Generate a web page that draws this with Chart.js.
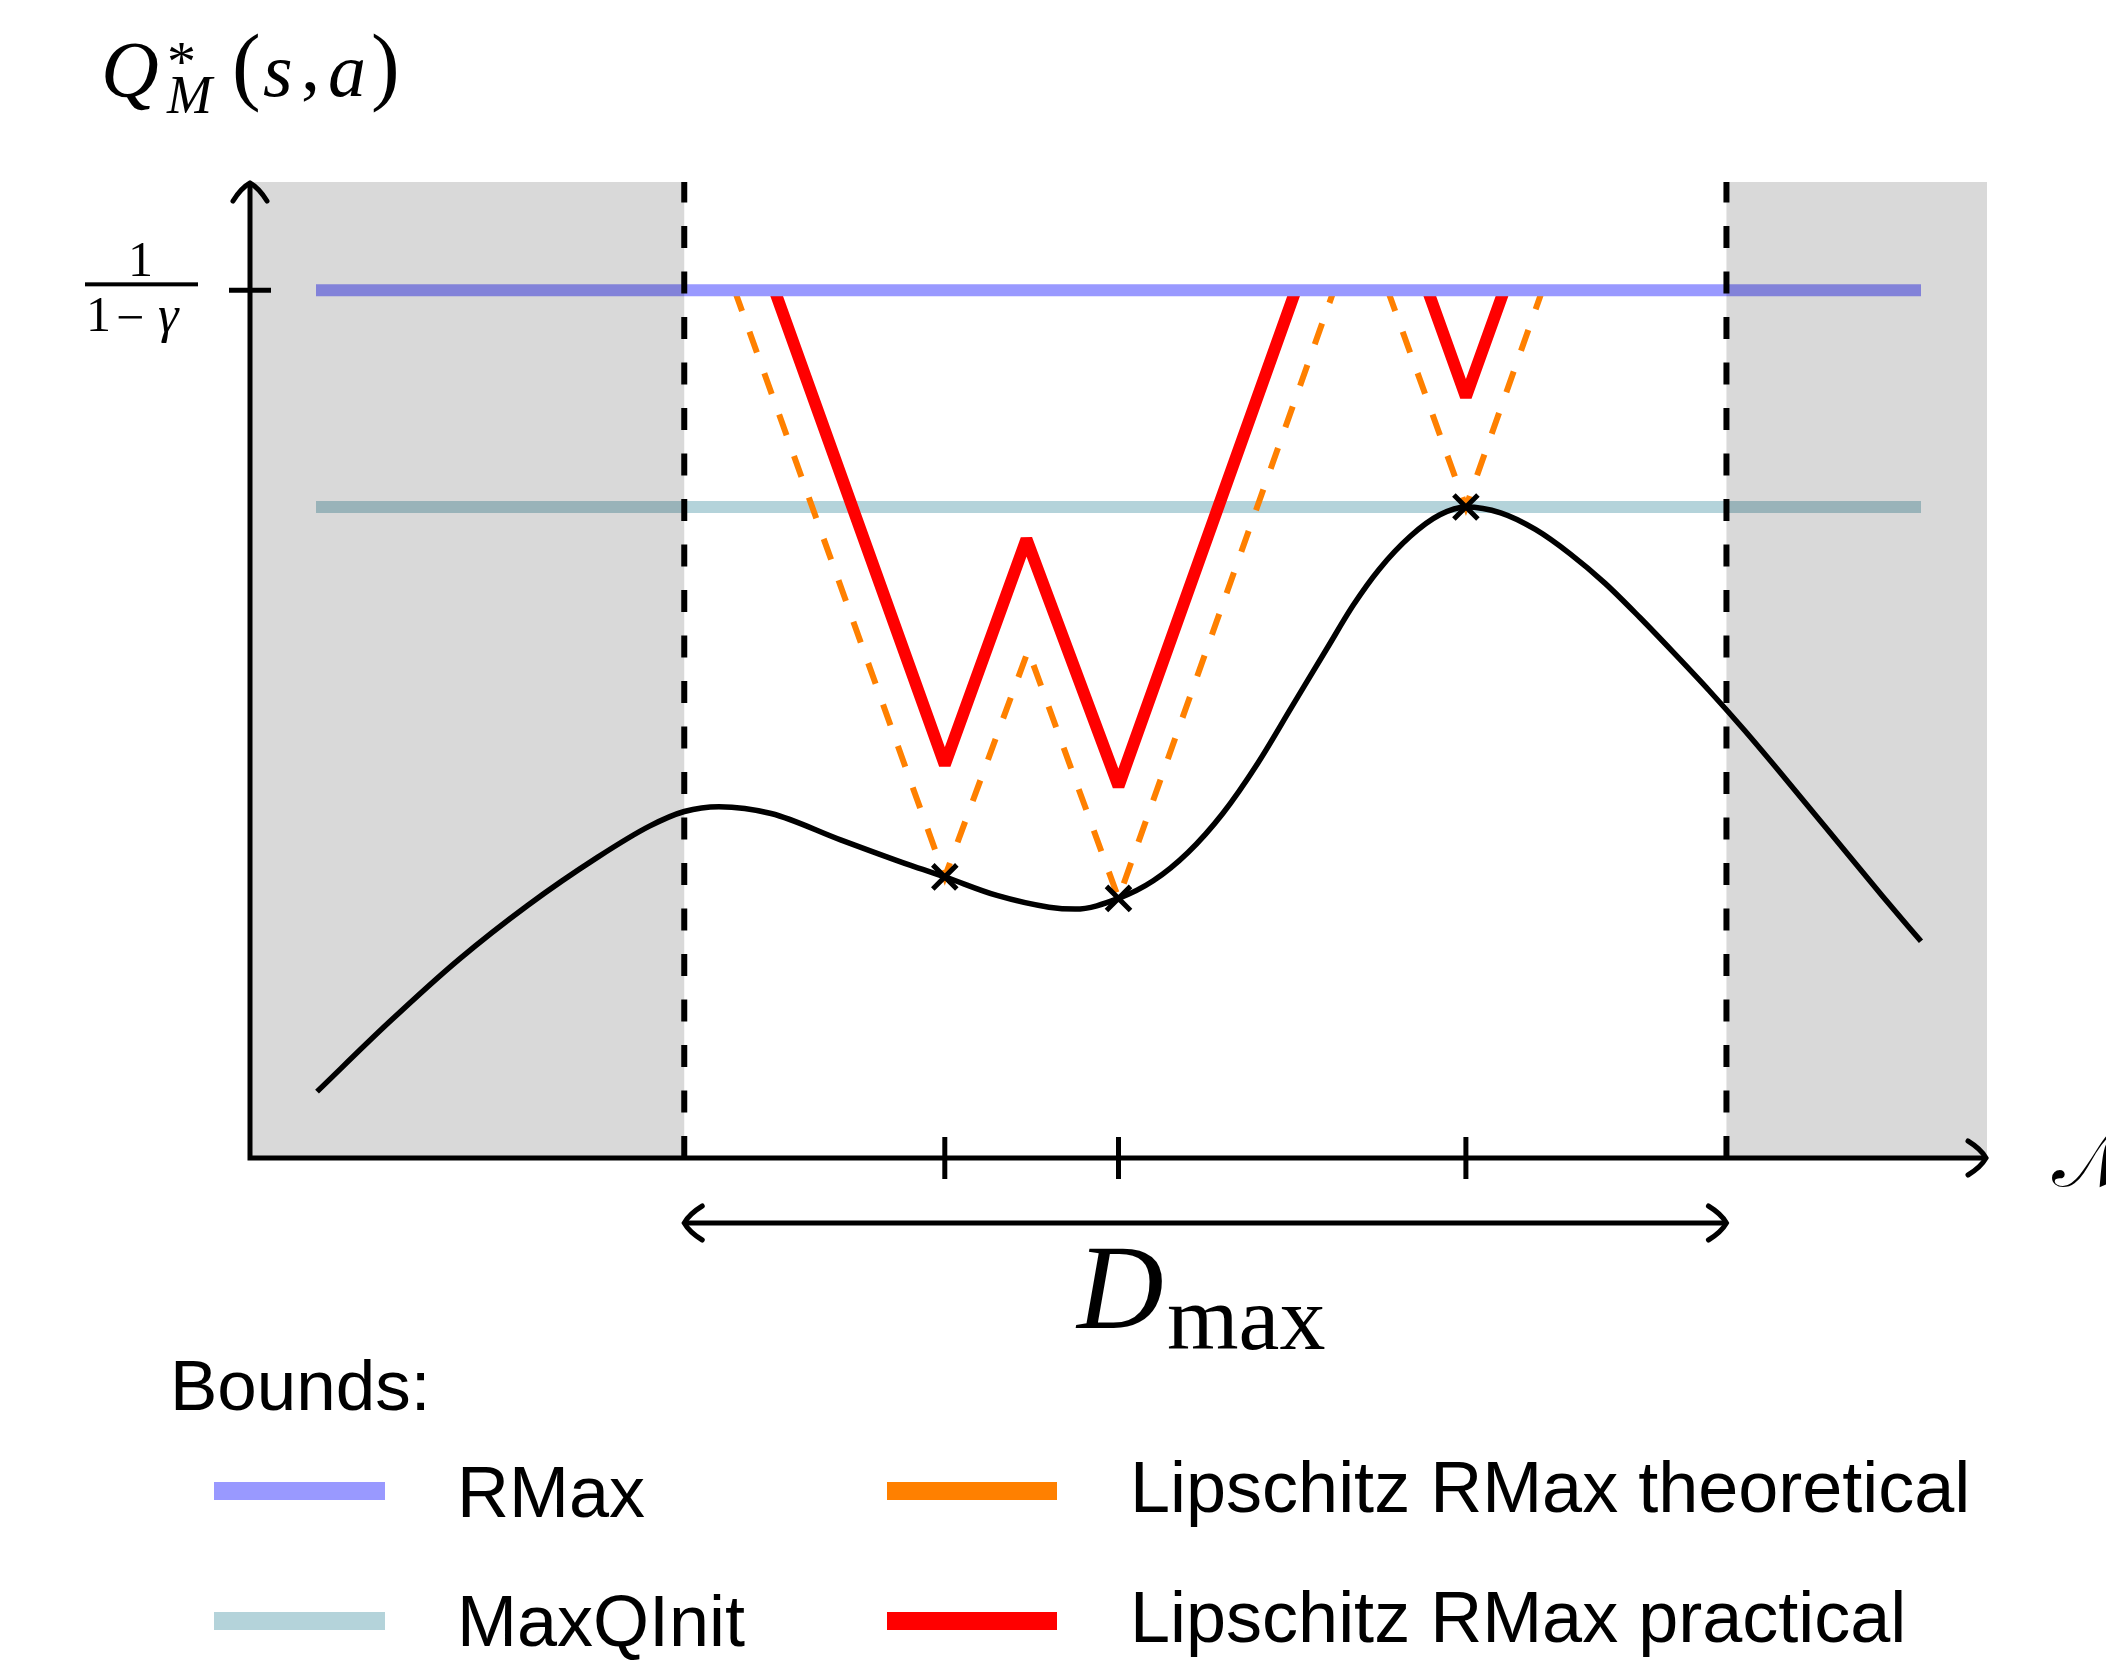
<!DOCTYPE html>
<html>
<head>
<meta charset="utf-8">
<title>Lipschitz RMax bounds</title>
<script src="https://cdn.jsdelivr.net/npm/chart.js@4.4.1/dist/chart.umd.min.js"></script>
<style>
    html, body { margin: 0; padding: 0; background: #fff; }
    #chart { display: block; width: 2106px; height: 1662px; }
</style>
</head>
<body>
<canvas id="chart" width="2106" height="1662"></canvas>
<script>
(function() {
    'use strict';

    // true Q*_M(s,a) curve
    var curveX = [3.86, 8, 12, 16, 20, 23, 25, 27, 30, 34, 38, 40, 43, 46, 47.5, 50, 52, 54, 56, 58, 60, 62, 63.5, 65, 66.8, 68.5, 70, 72, 74, 76, 78, 80, 82, 84, 86, 88, 90, 92, 94, 96.2];
    var curveY = [6.8, 13.9, 20.3, 25.9, 30.8, 34.0, 35.5, 36.0, 35.3, 32.6, 30.0, 28.8, 26.9, 25.7, 25.5, 26.6, 28.4, 31.3, 35.3, 40.4, 46.3, 52.2, 56.6, 60.3, 63.7, 65.9, 66.7, 66.1, 64.4, 61.9, 58.9, 55.4, 51.7, 47.9, 43.9, 39.7, 35.4, 31.1, 26.8, 22.2];

    // sampled state-actions (crosses and x-axis ticks)
    var markX = [40, 50, 70];
    var markY = [28.8, 26.6, 66.7];

    // constant bounds and their horizontal extent
    var rmaxY = 88.9;
    var maxQInitY = 66.7;
    var boundX = [3.8, 96.2];

    // D_max window
    var regionX = [25, 85];

    // Lipschitz bounds (null = break)
    var theoreticalX = [27.9, 40, 44.8, 50, 62.4, 64, 65.5, 70, 74.4];
    var theoreticalY = [88.9, 28.8, 52.0, 26.6, 88.9, null, 88.9, 66.7, 88.9];
    var practicalX = [30.2, 40, 44.7, 50, 60.2, 64, 67.8, 70, 72.2];
    var practicalY = [88.9, 40.3, 63.4, 38.1, 88.9, null, 88.9, 78.0, 88.9];

    var legendLabels = ['RMax', 'MaxQInit', 'Lipschitz RMax theoretical', 'Lipschitz RMax practical'];

    var SERIF = '"Liberation Serif", "DejaVu Serif", serif';
    var SANS = '"Liberation Sans", Arial, sans-serif';

    function pts(xs, ys) {
        return xs.map(function(x, i) { return { x: x, y: ys[i] }; });
    }

    function arrowHead(ctx, x, y, angle) {
        ctx.save();
        ctx.translate(x, y);
        ctx.rotate(angle);
        ctx.lineCap = 'round';
        ctx.beginPath();
        ctx.moveTo(-18, -17);
        ctx.quadraticCurveTo(-5, -9, 0, 0);
        ctx.quadraticCurveTo(-5, 9, -18, 17);
        ctx.stroke();
        ctx.restore();
    }

    // place text by its ink box (left, top)
    function ink(ctx, text, font, left, top) {
        ctx.font = font;
        var m = ctx.measureText(text);
        ctx.fillText(text, left + m.actualBoundingBoxLeft, top + m.actualBoundingBoxAscent);
    }

    function label(ctx, text, font, left, baseline) {
        ctx.font = font;
        var m = ctx.measureText(text);
        ctx.fillText(text, left + m.actualBoundingBoxLeft, baseline);
    }

    var overlay = {
        id: 'overlay',
        afterDatasetsDraw: function(chart) {
            var ctx = chart.ctx;
            var xs = chart.scales.x, ys = chart.scales.y;
            var x0 = xs.getPixelForValue(0), x1 = xs.getPixelForValue(xs.max);
            var y0 = ys.getPixelForValue(0), y1 = ys.getPixelForValue(ys.max);
            var dl = xs.getPixelForValue(regionX[0]), dr = xs.getPixelForValue(regionX[1]);

            ctx.save();
            ctx.fillStyle = 'rgba(0,0,0,0.15)';
            ctx.fillRect(x0, y1, dl - x0, y0 - y1);
            ctx.fillRect(dr, y1, x1 - dr, y0 - y1);

            ctx.strokeStyle = '#000';
            ctx.lineWidth = 6;
            ctx.setLineDash([22, 23.5]);
            [dl, dr].forEach(function(px) {
                ctx.beginPath();
                ctx.moveTo(px, y0);
                ctx.lineTo(px, y1);
                ctx.stroke();
            });
            ctx.setLineDash([]);

            ctx.lineWidth = 5;
            ctx.beginPath();
            ctx.moveTo(x0, y1 + 1);
            ctx.lineTo(x0, y0);
            ctx.lineTo(x1 - 1, y0);
            ctx.stroke();
            arrowHead(ctx, x0, y1 + 1, -Math.PI / 2);
            arrowHead(ctx, x1 - 1, y0, 0);

            markX.forEach(function(v) {
                var px = xs.getPixelForValue(v);
                ctx.beginPath();
                ctx.moveTo(px, y0 - 21);
                ctx.lineTo(px, y0 + 21);
                ctx.stroke();
            });
            var ry = ys.getPixelForValue(rmaxY);
            ctx.beginPath();
            ctx.moveTo(x0 - 21, ry);
            ctx.lineTo(x0 + 21, ry);
            ctx.stroke();

            var ay = y0 + 65;
            ctx.beginPath();
            ctx.moveTo(dl, ay);
            ctx.lineTo(dr, ay);
            ctx.stroke();
            arrowHead(ctx, dl, ay, Math.PI);
            arrowHead(ctx, dr, ay, 0);
            ctx.restore();
        },
        afterDraw: function(chart) {
            var ctx = chart.ctx;
            var ys = chart.scales.y;
            ctx.save();
            ctx.fillStyle = '#000';
            ctx.textAlign = 'left';
            ctx.textBaseline = 'alphabetic';

            // axis title Q*_M(s,a)
            ink(ctx, 'Q', 'italic 80px ' + SERIF, 105, 43);
            ink(ctx, '*', '58px ' + SERIF, 169, 43);
            ink(ctx, 'M', 'italic 54px ' + SERIF, 166, 77);
            ink(ctx, '(', '86px ' + SERIF, 235, 33);
            ink(ctx, 's', 'italic 76px ' + SERIF, 263, 60);
            ink(ctx, ',', '76px ' + SERIF, 303, 82);
            ink(ctx, 'a', 'italic 76px ' + SERIF, 330, 60);
            ink(ctx, ')', '86px ' + SERIF, 373, 33);

            // 1/(1-gamma) tick label
            var ry = ys.getPixelForValue(rmaxY);
            ink(ctx, '1', '50px ' + SERIF, 132, ry - 47);
            ctx.fillRect(85, ry - 8, 113, 4);
            ink(ctx, '1', '50px ' + SERIF, 90, ry + 8);
            ink(ctx, '\u2212', '50px ' + SERIF, 118, ry + 26);
            ink(ctx, '\u03b3', 'italic 52px ' + SERIF, 158, ry + 18);

            // x-axis name
            ink(ctx, '\ud835\udca9', '80px "DejaVu Serif", "DejaVu Sans", serif', 2052, 1130);

            // D_max
            ink(ctx, 'D', 'italic 120px ' + SERIF, 1075, 1248);
            ink(ctx, 'max', '92px ' + SERIF, 1168, 1305);

            // legend
            label(ctx, 'Bounds:', '71px ' + SANS, 175, 1410);
            var font = '72px ' + SANS;
            var cols = [[214, 385, 462], [887, 1057, 1135]];
            var rows = [[1491, 1517, 1512], [1621, 1646, 1642]];
            legendLabels.forEach(function(name, i) {
                var col = cols[Math.floor(i / 2)], row = rows[i % 2];
                var ds = chart.data.datasets.filter(function(d) { return d.label === name; })[0];
                ctx.strokeStyle = ds.borderColor;
                ctx.lineWidth = 18;
                ctx.lineCap = 'butt';
                ctx.beginPath();
                ctx.moveTo(col[0], row[0]);
                ctx.lineTo(col[1], row[0]);
                ctx.stroke();
                label(ctx, name, font, col[2], i < 2 ? row[1] : row[2]);
            });
            ctx.restore();
        }
    };

    new Chart(document.getElementById('chart'), {
        type: 'line',
        data: {
            datasets: [
                { label: 'RMax', data: pts(boundX, [rmaxY, rmaxY]), borderColor: '#9999ff', borderWidth: 12, borderCapStyle: 'butt', pointRadius: 0, order: 1 },
                { label: 'samples', data: pts(markX, markY), showLine: false, pointStyle: 'crossRot', pointRadius: 17, borderWidth: 5, pointBorderWidth: 5, borderColor: '#000', backgroundColor: '#000', order: 2 },
                { label: 'Q', data: pts(curveX, curveY), borderColor: '#000', borderWidth: 5.5, cubicInterpolationMode: 'monotone', pointRadius: 0, order: 3 },
                { label: 'Lipschitz RMax practical', data: pts(practicalX, practicalY), borderColor: '#ff0000', borderWidth: 12, borderJoinStyle: 'bevel', tension: 0, pointRadius: 0, order: 4 },
                { label: 'Lipschitz RMax theoretical', data: pts(theoreticalX, theoreticalY), borderColor: '#ff8000', borderWidth: 6, borderDash: [22, 22], tension: 0, pointRadius: 0, order: 5 },
                { label: 'MaxQInit', data: pts(boundX, [maxQInitY, maxQInitY]), borderColor: '#b4d3da', borderWidth: 12, borderCapStyle: 'butt', pointRadius: 0, order: 6 }
            ]
        },
        options: {
            responsive: false,
            animation: false,
            devicePixelRatio: 1,
            layout: { padding: { left: 250, right: 119, top: 182, bottom: 504 } },
            scales: {
                x: { type: 'linear', min: 0, max: 100, display: false },
                y: { type: 'linear', min: 0, max: 100, display: false }
            },
            plugins: { legend: { display: false }, tooltip: { enabled: false } }
        },
        plugins: [overlay]
    });
})();
</script>
</body>
</html>
